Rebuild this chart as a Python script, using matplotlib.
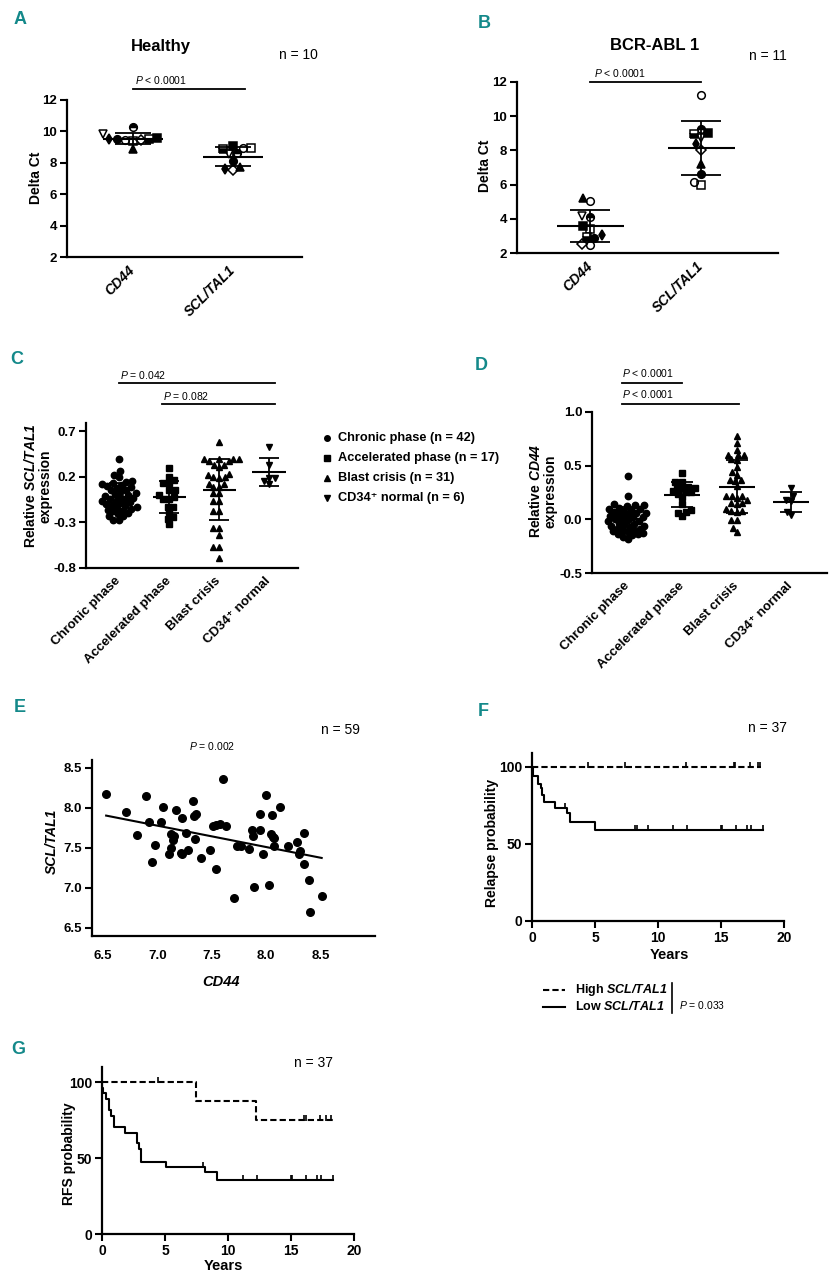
import numpy as np
import matplotlib
matplotlib.use("Agg")
import matplotlib.pyplot as plt
from matplotlib.lines import Line2D

plt.rcParams["font.family"] = ["Liberation Sans", "DejaVu Sans"]
plt.rcParams["mathtext.fontset"] = "custom"
plt.rcParams["mathtext.rm"] = "Liberation Sans"
plt.rcParams["mathtext.it"] = "Liberation Sans:italic"
plt.rcParams["mathtext.bf"] = "Liberation Sans:italic:bold"

# ---- data -------------------------------------------------------------
genes = ["CD44", "SCL/TAL1"]
# A: healthy donors (n = 10), delta Ct per donor
healthy_cd44 = [9.50, 9.45, 10.25, 9.60, 9.40, 9.50, 8.85, 9.85, 9.45, 9.50]
healthy_scl = [8.10, 8.95, 8.60, 9.05, 8.95, 8.85, 7.75, 8.55, 7.55, 7.60]
# B: BCR-ABL1 patients (n = 11)
bcr_cd44 = [2.85, 5.05, 4.10, 3.60, 3.40, 2.95, 5.20, 4.15, 2.50, 3.05, 2.45]
bcr_scl = [6.60, 6.15, 9.25, 9.00, 6.00, 8.95, 7.20, 8.75, 8.00, 8.35, 11.25]

phases = ["Chronic phase", "Accelerated phase", "Blast crisis", "CD34⁺ normal"]
phase_n = [42, 17, 31, 6]
# C: relative SCL/TAL1 expression
scl_chronic = [0.40, 0.26, 0.22, 0.20, 0.15, 0.14, 0.13, 0.12, 0.11, 0.10, 0.09,
               0.08, 0.06, 0.05, 0.04, 0.02, 0.01, 0.00, -0.01, -0.02, -0.03,
               -0.04, -0.05, -0.06, -0.07, -0.08, -0.09, -0.10, -0.11, -0.12,
               -0.13, -0.14, -0.15, -0.16, -0.17, -0.18, -0.20, -0.21, -0.23,
               -0.23, -0.27, -0.27]
scl_accel = [0.30, 0.20, 0.16, 0.13, 0.13, 0.06, 0.05, 0.00, -0.02, -0.04, -0.04,
             -0.13, -0.13, -0.19, -0.24, -0.26, -0.32]
scl_blast = [0.58, 0.37, 0.39, 0.40, 0.40, 0.39, 0.37, 0.33, 0.31, 0.33, 0.22,
             0.20, 0.20, 0.23, 0.19, 0.12, 0.09, 0.09, 0.12, 0.02, 0.02, -0.07,
             -0.07, -0.18, -0.18, -0.36, -0.36, -0.44, -0.57, -0.57, -0.69]
scl_cd34 = [0.53, 0.33, 0.19, 0.12, 0.15, 0.19]
# D: relative CD44 expression
cd44_chronic = [0.40, 0.22, 0.14, 0.13, 0.13, 0.12, 0.11, 0.10, 0.10, 0.09, 0.08,
                0.07, 0.06, 0.06, 0.05, 0.04, 0.03, 0.02, 0.02, 0.01, 0.00, -0.01,
                -0.02, -0.02, -0.03, -0.04, -0.05, -0.06, -0.06, -0.07, -0.08,
                -0.09, -0.10, -0.10, -0.11, -0.12, -0.13, -0.14, -0.14, -0.15,
                -0.16, -0.18]
cd44_accel = [0.43, 0.35, 0.35, 0.30, 0.29, 0.29, 0.30, 0.25, 0.24, 0.25, 0.21,
              0.26, 0.14, 0.07, 0.03, 0.06, 0.09]
cd44_blast = [0.78, 0.71, 0.65, 0.60, 0.60, 0.56, 0.60, 0.55, 0.49, 0.44, 0.41,
              0.37, 0.37, 0.36, 0.31, 0.22, 0.22, 0.22, 0.20, 0.18, 0.15, 0.15,
              0.14, 0.08, 0.08, 0.10, 0.07, -0.01, -0.01, -0.12, -0.08]
cd44_cd34 = [0.29, 0.18, 0.17, 0.22, 0.04, 0.07]
# E: correlation (n = 59)
e_cd44 = [6.53, 6.71, 6.81, 6.90, 6.92, 6.95, 6.98, 7.03, 7.05, 7.11, 7.13, 7.13,
          7.14, 7.15, 7.17, 7.22, 7.23, 7.23, 7.26, 7.28, 7.33, 7.34, 7.36, 7.35,
          7.40, 7.48, 7.51, 7.54, 7.54, 7.58, 7.60, 7.63, 7.70, 7.73, 7.77, 7.84,
          7.87, 7.88, 7.89, 7.94, 7.94, 7.97, 8.00, 8.03, 8.04, 8.05, 8.06, 8.07,
          8.13, 8.20, 8.28, 8.30, 8.31, 8.35, 8.35, 8.39, 8.40, 8.51, 8.07]
e_scl = [8.17, 7.95, 7.66, 8.15, 7.82, 7.32, 7.54, 7.83, 8.01, 7.43, 7.50, 7.68,
         7.60, 7.65, 7.97, 7.44, 7.43, 7.87, 7.69, 7.48, 8.09, 7.90, 7.93, 7.61,
         7.37, 7.47, 7.77, 7.79, 7.24, 7.80, 8.36, 7.77, 6.87, 7.53, 7.53, 7.49,
         7.73, 7.65, 7.01, 7.93, 7.72, 7.43, 8.16, 7.04, 7.68, 7.91, 7.64, 7.53,
         8.01, 7.52, 7.58, 7.43, 7.46, 7.69, 7.30, 7.10, 6.70, 6.90, 7.62]
# F: relapse (Kaplan-Meier), event times (years) and % after each step
f_high_times, f_high_surv, f_high_end = [], [], 18.2
f_high_cens = [4.45, 7.4, 12.2, 16.0, 16.15, 17.3, 17.9, 18.1]
f_low_times = [0.05, 0.48, 0.69, 0.82, 0.93, 1.8, 2.75, 3.0, 4.98]
f_low_surv = [94.4, 89.2, 86.6, 82.0, 77.0, 73.1, 70.1, 64.0, 59.2]
f_low_end = 18.3
f_low_cens = [2.6, 8.16, 8.3, 9.17, 11.2, 12.3, 15.0, 15.1, 16.2, 17.1, 17.4, 18.3]
# G: relapse-free survival
g_high_times = [7.44, 12.2]
g_high_surv = [87.5, 75.0]
g_high_end = 18.3
g_high_cens = [4.48, 16.0, 16.2, 17.3, 17.8, 18.2]
g_low_times = [0.03, 0.1, 0.3, 0.53, 0.74, 0.92, 1.85, 2.77, 2.9, 3.1, 5.1, 8.2, 9.16]
g_low_surv = [96.3, 92.6, 88.9, 81.4, 77.7, 70.5, 66.6, 60.0, 55.9, 47.6, 44.3,
              40.7, 35.4]
g_low_end = 18.3
g_low_cens = [8.05, 11.2, 12.3, 15.0, 15.1, 16.2, 17.1, 17.4, 18.3]

# ---- styles -----------------------------------------------------------
# one marker per donor in A/B: (marker, fillstyle)
donor_markers = [("o", "full"), ("o", "none"), ("o", "top"), ("s", "full"),
                 ("s", "none"), ("s", "bottom"), ("^", "full"), ("v", "none"),
                 ("D", "none"), ("d", "full"), ("o", "none")]
phase_markers = ["o", "s", "^", "v"]
TEAL = "#14898a"
W, H = 834, 1280

fig = plt.figure(figsize=(W / 100, H / 100), dpi=100)


def add_ax(l, t, r, b):
    ax = fig.add_axes([l / W, 1 - b / H, (r - l) / W, (b - t) / H])
    for s in ("top", "right"):
        ax.spines[s].set_visible(False)
    for s in ("left", "bottom"):
        ax.spines[s].set_linewidth(1.6)
    ax.tick_params(direction="out", length=5, width=1.5, labelsize=9.5, pad=2)
    return ax


def ftext(x, y, s, **kw):
    kw.setdefault("ha", "center")
    kw.setdefault("va", "center")
    fig.text(x / W, 1 - y / H, s, **kw)


def ylab(ax, s, x, y, **kw):
    ax.set_ylabel(s, fontweight="bold", fontsize=10, linespacing=1.05, **kw)
    lab = ax.yaxis.label
    lab.set_rotation_mode("default")
    lab.set_va("center")
    lab.set_ha("center")
    ax.yaxis.set_label_coords(x / W, 1 - y / H, transform=fig.transFigure)


def xlab(ax, s, x, y, **kw):
    ax.set_xlabel(s, fontweight="bold", fontsize=10.5, **kw)
    ax.xaxis.label.set_va("center")
    ax.xaxis.set_label_coords(x / W, 1 - y / H, transform=fig.transFigure)


def swarm(ax, x0, ys, d):
    """Beeswarm x positions (pixel-space collision check, balanced sides)."""
    ys = np.asarray(ys, float)
    pts = ax.transData.transform(np.column_stack([np.full(len(ys), x0), ys]))
    cx = pts[0, 0]
    placed = []
    out = np.zeros(len(ys))
    for i in np.argsort(ys, kind="stable"):
        py = pts[i, 1]
        near = [(qx, qy) for qx, qy in placed if abs(qy - py) < d]
        bal = sum(np.sign(qx - cx) for qx, qy in near)
        cands = [cx]
        for qx, qy in near:
            dx = np.sqrt(d * d - (qy - py) ** 2)
            cands += [qx - dx, qx + dx]
        cands.sort(key=lambda c: (int(abs(c - cx) / (0.7 * d)),
                                  0 if (c - cx) * bal <= 0 else 1,
                                  abs(c - cx)))
        for c in cands:
            if all((c - qx) ** 2 + (py - qy) ** 2 >= d * d - 1e-6 for qx, qy in near):
                break
        placed.append((c, py))
        out[i] = c
    return ax.transData.inverted().transform(np.column_stack([out, pts[:, 1]]))[:, 0]


def mean_sd(ax, x0, ys, half=0.3, cap=0.18):
    m, s = np.mean(ys), np.std(ys, ddof=1)
    ax.hlines(m, x0 - half, x0 + half, color="k", lw=1.5, zorder=4)
    ax.vlines(x0, m - s, m + s, color="k", lw=1.3, zorder=4)
    ax.hlines([m - s, m + s], x0 - cap, x0 + cap, color="k", lw=1.3, zorder=4)


def bracket(ax, x1, x2, y, label, ty, tx=None):
    ax.plot([x1, x2], [y, y], color="k", lw=1.3, clip_on=False)
    ax.text(x1 if tx is None else tx, ty, label, fontsize=7.5, ha="left",
            va="center", clip_on=False)


def cat_labels(ax, labels, italic=False, size=9.5):
    ax.set_xticks(range(len(labels)))
    ax.set_xticklabels(labels, rotation=45, ha="right", va="center",
                       rotation_mode="anchor", fontweight="bold", fontsize=size,
                       fontstyle="italic" if italic else "normal")
    ax.tick_params(axis="x", length=0, pad=8)


def bold_yticks(ax, ticks, fmt):
    ax.set_yticks(ticks)
    ax.set_yticklabels([fmt % t for t in ticks], fontweight="bold")


def donor_panel(ax, series):
    ax.set_xlim(-0.66, 1.69)
    ax.set_ylim(2, 12)
    bold_yticks(ax, np.arange(2, 13, 2), "%d")
    for xi, vals in enumerate(series):
        xs = swarm(ax, xi, vals, 8.0)
        for k, (xv, yv) in enumerate(zip(xs, vals)):
            mk, fs = donor_markers[k]
            ax.plot(xv, yv, marker=mk, fillstyle=fs, ms=5.5, color="k",
                    markerfacecoloralt="white", mew=1.1, ls="none", zorder=3)
        mean_sd(ax, xi, vals, half=0.3, cap=0.18)
    cat_labels(ax, genes, italic=True, size=10)


# ---- A ----------------------------------------------------------------
axA = add_ax(67, 100, 302, 257)
donor_panel(axA, [healthy_cd44, healthy_scl])
bracket(axA, 0, 1.12, 12.7, "$\\mathit{P}$ < 0.0001", 13.3, tx=0.02)
ylab(axA, "Delta Ct", 36, 178)
ftext(161, 46, "Healthy", fontsize=12, fontweight="bold")
ftext(298, 55, "n = 10", fontsize=10)

# ---- B ----------------------------------------------------------------
axB = add_ax(517, 82, 778, 253)
donor_panel(axB, [bcr_cd44, bcr_scl])
bracket(axB, 0, 1, 12.0, "$\\mathit{P}$ < 0.0001", 12.55, tx=0.03)
ylab(axB, "Delta Ct", 485, 166)
ftext(655, 46, "BCR-ABL 1", fontsize=12, fontweight="bold")
ftext(768, 56, "n = 11", fontsize=10)


# ---- C / D ------------------------------------------------------------
def phase_panel(ax, groups, ylim, yticks):
    ax.set_ylim(*ylim)
    bold_yticks(ax, yticks, "%.1f")
    for xi, vals in enumerate(groups):
        xs = swarm(ax, xi, vals, 5.6)
        ax.plot(xs, vals, marker=phase_markers[xi], ms=4.6, color="k",
                ls="none", zorder=3)
        mean_sd(ax, xi, vals, half=0.33, cap=0.2)
    cat_labels(ax, phases)


axC = add_ax(86, 423, 298, 568)
axC.set_xlim(-0.66, 3.58)
phase_panel(axC, [scl_chronic, scl_accel, scl_blast, scl_cd34], (-0.8, 0.79),
            [-0.8, -0.3, 0.2, 0.7])
bracket(axC, 0, 3.12, 1.23, "$\\mathit{P}$ = 0.042", 1.32, tx=0.02)
bracket(axC, 0.86, 3.12, 1.0, "$\\mathit{P}$ = 0.082", 1.09, tx=0.88)
ylab(axC, "Relative $\\mathbf{SCL/TAL1}$\nexpression", 38, 486)

# legend for C
for k, (lab, n) in enumerate(zip(phases, phase_n)):
    y = 438 + 20 * k
    fig.add_artist(Line2D([327 / W], [1 - y / H], marker=phase_markers[k], ms=4,
                          color="k", ls="none", transform=fig.transFigure))
    ftext(338, y, f"{lab} (n = {n})", ha="left", fontsize=9.2, fontweight="bold")

axD = add_ax(592, 412, 827, 573)
axD.set_xlim(-0.66, 3.66)
phase_panel(axD, [cd44_chronic, cd44_accel, cd44_blast, cd44_cd34], (-0.5, 1.0),
            [-0.5, 0.0, 0.5, 1.0])
bracket(axD, -0.11, 1.0, 1.27, "$\\mathit{P}$ < 0.0001", 1.365, tx=-0.1)
bracket(axD, -0.11, 2.04, 1.075, "$\\mathit{P}$ < 0.0001", 1.17, tx=-0.1)
ylab(axD, "Relative $\\mathbf{CD44}$\nexpression", 543, 491)

# ---- E ----------------------------------------------------------------
axE = add_ax(92, 760, 375, 936)
axE.set_xlim(6.4, 9.0)
axE.set_ylim(6.4, 8.6)
axE.scatter(e_cd44, e_scl, s=30, color="k", zorder=3)
slope, icpt = np.polyfit(e_cd44, e_scl, 1)
xr = np.array([min(e_cd44), max(e_cd44)])
axE.plot(xr, slope * xr + icpt, color="k", lw=1.5)
ticks = [6.5, 7.0, 7.5, 8.0, 8.5]
axE.set_xticks(ticks)
axE.set_xticklabels([f"{t:.1f}" for t in ticks], fontweight="bold")
bold_yticks(axE, ticks, "%.1f")
axE.tick_params(axis="x", length=0, pad=10)
ylab(axE, "SCL/TAL1", 52, 841, fontstyle="italic")
xlab(axE, "CD44", 221, 982, fontstyle="italic")
ftext(340, 730, "n = 59", fontsize=10)
ftext(212, 746, "$\\mathit{P}$ = 0.002", fontsize=7.5)


# ---- F / G ------------------------------------------------------------
def km(ax, times, surv, end, cens, dashed):
    t = np.r_[0, times, end]
    s = np.r_[100, surv, surv[-1] if len(surv) else 100]
    kw = {"dashes": (3, 1.5)} if dashed else {}
    ax.step(t, s, where="post", color="k", lw=1.5, **kw)
    idx = np.searchsorted(t, cens, side="right") - 1
    ax.plot(cens, s[idx] + 1.2, marker="|", ms=4, mew=1.2, color="k", ls="none")


def km_axes(ax, ymax):
    ax.set_xlim(0, 20)
    ax.set_ylim(0, ymax)
    ax.set_xticks([0, 5, 10, 15, 20])
    ax.set_xticklabels(["0", "5", "10", "15", "20"], fontweight="bold")
    bold_yticks(ax, [0, 50, 100], "%d")
    ax.tick_params(labelsize=10)


axF = add_ax(532, 753, 784, 921)
km_axes(axF, 109)
km(axF, f_high_times, f_high_surv, f_high_end, f_high_cens, True)
km(axF, f_low_times, f_low_surv, f_low_end, f_low_cens, False)
ylab(axF, "Relapse probability", 492, 843)
xlab(axF, "Years", 669, 955)
ftext(768, 728, "n = 37", fontsize=10)

# legend under F
for y, dashed, lab in [(990, True, "High $\\mathbf{SCL/TAL1}$"),
                       (1007, False, "Low $\\mathbf{SCL/TAL1}$")]:
    kw = {"dashes": (3, 1.5)} if dashed else {}
    fig.add_artist(Line2D([543 / W, 565 / W], [1 - y / H, 1 - y / H], color="k",
                          lw=1.5, transform=fig.transFigure, **kw))
    ftext(575, y, lab, ha="left", fontsize=9, fontweight="bold")
fig.add_artist(Line2D([672 / W, 672 / W], [1 - 983 / H, 1 - 1013 / H], color="k",
                      lw=1.2, transform=fig.transFigure))
ftext(679, 1005, "$\\mathit{P}$ = 0.033", ha="left", fontsize=7.5)

axG = add_ax(102, 1067, 354, 1234)
km_axes(axG, 110)
km(axG, g_high_times, g_high_surv, g_high_end, g_high_cens, True)
km(axG, g_low_times, g_low_surv, g_low_end, g_low_cens, False)
ylab(axG, "RFS probability", 69, 1154)
xlab(axG, "Years", 223, 1266)
ftext(314, 1063, "n = 37", fontsize=10)

# panel letters
for letter, (x, y) in {"A": (20, 20), "B": (484, 24), "C": (17, 360),
                       "D": (481, 365), "E": (20, 707), "F": (483, 712),
                       "G": (18, 1049)}.items():
    ftext(x, y, letter, fontsize=13, fontweight="bold", color=TEAL)

fig.savefig("out.png", dpi=100)
